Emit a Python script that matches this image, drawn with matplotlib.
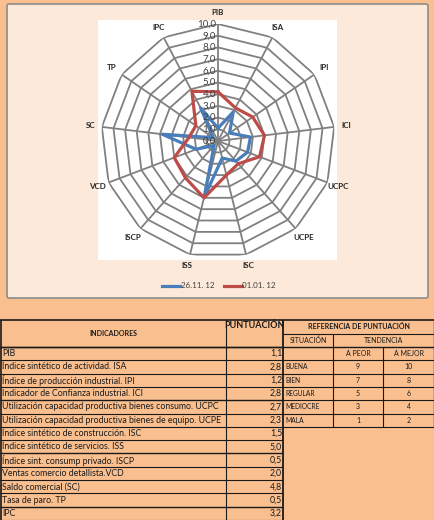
import numpy as np
import matplotlib
matplotlib.use("Agg")
import matplotlib.pyplot as plt
from matplotlib.patches import Rectangle, FancyBboxPatch
import matplotlib.transforms as mtransforms

plt.rcParams['font.family'] = ['Lato', 'DejaVu Sans']

# --- data ---
indicators = ['PIB', 'ISA', 'IPI', 'ICI', 'UCPC', 'UCPE', 'ISC', 'ISS',
              'ISCP', 'VCD', 'SC', 'TP', 'IPC']
serie_261112 = [1.1, 2.8, 1.2, 2.8, 2.7, 2.3, 1.5, 5.0, 0.5, 2.0, 4.8, 0.5, 3.2]
serie_010112 = [4.2, 3.2, 3.6, 4.0, 3.8, 2.6, 3.0, 5.0, 4.2, 4.0, 2.5, 2.3, 4.8]
series_names = ['26.11. 12', '01.01. 12']
radial_ticks = [0, 1, 2, 3, 4, 5, 6, 7, 8, 9, 10]

row_labels = [
    'PIB',
    'Índice sintético de actividad. ISA',
    'Índice de producción industrial. IPI',
    'Indicador de Confianza industrial. ICI',
    'Utilización capacidad productiva bienes consumo. UCPC',
    'Utilización capacidad productiva bienes de equipo. UCPE',
    'Índice sintético de construcción. ISC',
    'Índice sintético de servicios. ISS',
    'Índice sint. consump privado. ISCP',
    'Ventas comercio detallista.VCD',
    'Saldo comercial (SC)',
    'Tasa de paro. TP',
    'IPC',
]
situaciones = ['BUENA', 'BIEN', 'REGULAR', 'MEDIOCRE', 'MALA']
a_peor = [9, 7, 5, 3, 1]
a_mejor = [10, 8, 6, 4, 2]

W, H = 435, 520
fig = plt.figure(figsize=(W / 100, H / 100), dpi=100)
fig.patch.set_facecolor('#FABF8F')

# background / table axes in pixel coordinates
bg = fig.add_axes([0, 0, 1, 1])
bg.set_xlim(0, W)
bg.set_ylim(H, 0)
bg.axis('off')

# chart panel
bg.add_patch(FancyBboxPatch((7, 4), 421, 294, boxstyle='round,pad=0,rounding_size=2',
                            facecolor='#FDE9D9', edgecolor='#8C8C8C', linewidth=1.2))
bg.add_patch(Rectangle((98, 20), 239, 240, facecolor='white', edgecolor='none'))

# --- radar ---
cx, cy, R = 218, 141, 117
pax = fig.add_axes([(cx - R) / W, (H - cy - R) / H, 2 * R / W, 2 * R / H], polar=True)
pax.set_theta_zero_location('N')
pax.set_theta_direction(-1)
pax.set_ylim(0, 10)
pax.patch.set_alpha(0)
pax.grid(False)
pax.spines['polar'].set_visible(False)
pax.set_xticks([])
pax.set_yticks([])

n = len(indicators)
angles = np.linspace(0, 2 * np.pi, n, endpoint=False)
closed = np.append(angles, angles[0])

grid_col = '#808080'
for r in radial_ticks[1:]:
    pax.plot(closed, [r] * (n + 1), color=grid_col, lw=1.3, zorder=1)
for a in angles:
    pax.plot([a, a], [0, 10], color=grid_col, lw=1.3, zorder=1)

blue = '#4A7EBB'
red = '#BE4B48'
l1, = pax.plot(closed, serie_261112 + serie_261112[:1], color=blue, lw=2.3, zorder=3)
l2, = pax.plot(closed, serie_010112 + serie_010112[:1], color=red, lw=2.3, zorder=3)

off = mtransforms.offset_copy(pax.transData, fig=fig, x=-1.5, y=0, units='points')
for t in radial_ticks:
    pax.text(0, t, f'{t:.1f}'.replace('.', ','), transform=off, ha='right', va='center',
             fontsize=7, color='#404040', zorder=4)

for a, lab in zip(angles, indicators):
    pax.text(a, 11.0, lab, ha='center', va='center', fontsize=5.8,
             fontweight='bold', color='#262626')

fig.legend([l1, l2], series_names, loc='center', bbox_to_anchor=(219 / W, 1 - 286 / H),
           ncol=2, frameon=False, fontsize=5.8, handlelength=2.2, handletextpad=0.1,
           columnspacing=1.2, labelcolor='#404040')

# --- table ---
top = 320
hdr2 = 333.5
row0 = 347
rh = (H - row0) / len(row_labels)
x_ind, x_pun, x_sit, x_pe, x_me, x_end = 0.5, 226, 283, 333, 383, 434.5
lc = '#1a1a1a'

def hline(y, x0, x1, lw=0.8):
    bg.plot([x0, x1], [y, y], color=lc, lw=lw, solid_capstyle='butt')

def vline(x, y0, y1, lw=0.8):
    bg.plot([x, x], [y0, y1], color=lc, lw=lw, solid_capstyle='butt')

hline(top, 0, W, lw=1.2)
hline(hdr2, x_sit, W)
hline(row0, 0, W, lw=1.0)
vline(x_ind, top, H, lw=1.2)
vline(x_pun, top, H)
vline(x_sit, top, H, lw=1.3)
vline(x_end, top, row0 + 6 * rh, lw=1.0)
vline(x_pe, hdr2, row0 + 6 * rh)
vline(x_me, row0, row0 + 6 * rh)
for i in range(len(row_labels) + 1):
    y = row0 + i * rh
    hline(y, 0, x_sit, lw=1.0 if i % 4 == 0 else 0.8)
for i in range(1, 7):
    hline(row0 + i * rh, x_sit, W)

bg.text(x_pun / 2, (top + row0) / 2, 'INDICADORES', ha='center', va='center',
        fontsize=5, fontweight='bold', color='#1a1a1a')
bg.text((x_pun + x_sit) / 2, top + 5, 'PUNTUACIÓN', ha='center', va='center',
        fontsize=6.5, fontweight='bold', color='#1a1a1a')
bg.text((x_sit + W) / 2, (top + hdr2) / 2, 'REFERENCIA DE PUNTUACIÓN', ha='center',
        va='center', fontsize=5, fontweight='bold', color='#1a1a1a')
bg.text((x_sit + x_pe) / 2, (hdr2 + row0) / 2, 'SITUACIÓN', ha='center', va='center',
        fontsize=5, color='#1a1a1a')
bg.text((x_pe + W) / 2, (hdr2 + row0) / 2, 'TENDENCIA', ha='center', va='center',
        fontsize=5, color='#1a1a1a')
bg.text((x_pe + x_me) / 2, row0 + rh / 2, 'A PEOR', ha='center', va='center',
        fontsize=5, color='#1a1a1a')
bg.text((x_me + W) / 2, row0 + rh / 2, 'A MEJOR', ha='center', va='center',
        fontsize=5, color='#1a1a1a')

for i, (lab, val) in enumerate(zip(row_labels, serie_261112)):
    yc = row0 + (i + 0.5) * rh
    bg.text(2, yc, lab, ha='left', va='center', fontsize=6.3, color='#1a1a1a')
    bg.text(x_sit - 1, yc, f'{val:.1f}'.replace('.', ','), ha='right', va='center',
            fontsize=6.3, color='#1a1a1a')

for i, (s, p, m) in enumerate(zip(situaciones, a_peor, a_mejor)):
    yc = row0 + (i + 1.5) * rh
    bg.text(x_sit + 2, yc, s, ha='left', va='center', fontsize=4.8, color='#1a1a1a')
    bg.text((x_pe + x_me) / 2, yc, str(p), ha='center', va='center', fontsize=5, color='#1a1a1a')
    bg.text((x_me + W) / 2, yc, str(m), ha='center', va='center', fontsize=5, color='#1a1a1a')

fig.savefig('out.png', dpi=100, facecolor=fig.get_facecolor())
